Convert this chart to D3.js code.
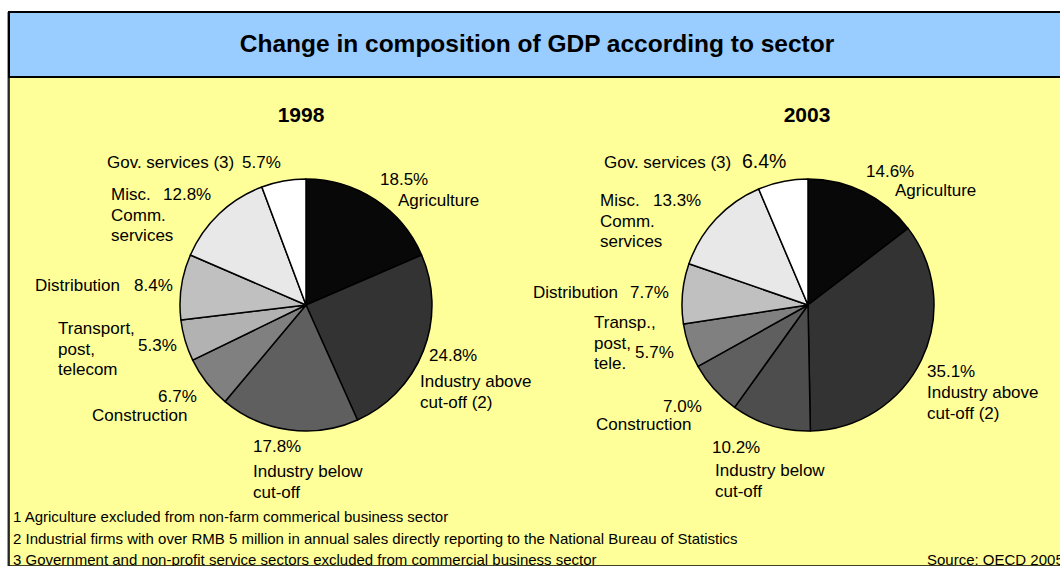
<!DOCTYPE html>
<html>
<head>
<meta charset="utf-8">
<script src="https://cdn.jsdelivr.net/npm/d3@7"></script>
<style>
  html, body { margin: 0; padding: 0; background: #ffffff; }
  svg { display: block; font-family: Arial, "Liberation Sans", sans-serif; }
</style>
</head>
<body>
<svg id="chart" width="1060" height="566"></svg>
<script>
// Sector shares of GDP (%), slices drawn clockwise from 12 o'clock
const sectors = [
  "Agriculture", "Industry above cut-off", "Industry below cut-off", "Construction",
  "Transport, post, telecom", "Distribution", "Misc. Comm. services", "Gov. services"
];
const years = ["1998", "2003"];
const values1998 = [18.5, 24.8, 17.8, 6.7, 5.3, 8.4, 12.8, 5.7];
const values2003 = [14.6, 35.1, 10.2, 7.0, 5.7, 7.7, 13.3, 6.4];

// Label wording per chart (one entry per line)
const names1998 = [["Agriculture"], ["Industry above", "cut-off (2)"], ["Industry below", "cut-off"],
  ["Construction"], ["Transport,", "post,", "telecom"], ["Distribution"], ["Misc.", "Comm.", "services"], ["Gov. services (3)"]];
const names2003 = [["Agriculture"], ["Industry above", "cut-off (2)"], ["Industry below", "cut-off"],
  ["Construction"], ["Transp.,", "post,", "tele."], ["Distribution"], ["Misc.", "Comm.", "services"], ["Gov. services (3)"]];

const footnotes = [
  "1 Agriculture excluded from non-farm commerical business sector",
  "2 Industrial firms with over RMB 5 million in annual sales directly reporting to the National Bureau of Statistics",
  "3 Government and non-profit service sectors excluded from commercial business sector"
];
const title = "Change in composition of GDP according to sector";
const source = "Source: OECD 2005";

// ---- styling / layout ----
const fills1998 = ["#080808", "#333333", "#5f5f5f", "#808080", "#b2b2b2", "#c0c0c0", "#e8e8e8", "#ffffff"];
const fills2003 = ["#080808", "#333333", "#4d4d4d", "#5f5f5f", "#808080", "#c0c0c0", "#e8e8e8", "#ffffff"];

// label anchors: value position [x, y] and first name line [x, y]
const labelPos1998 = [
  { v: [380, 185], n: [398, 206] },
  { v: [429, 361], n: [420, 387] },
  { v: [253, 452], n: [253, 477] },
  { v: [158, 402], n: [92, 421] },
  { v: [138, 351], n: [58, 334] },
  { v: [134, 291], n: [35, 291] },
  { v: [163, 200], n: [111, 200] },
  { v: [242, 168], n: [107, 168] }
];
const labelPos2003 = [
  { v: [866, 177], n: [895, 196] },
  { v: [927, 377], n: [927, 398] },
  { v: [712, 453], n: [715, 476] },
  { v: [663, 412], n: [596, 430] },
  { v: [635, 358], n: [594, 328] },
  { v: [630, 298], n: [533, 298] },
  { v: [653, 206], n: [600, 206] },
  { v: [742, 168], n: [604, 168], big: true }
];

const charts = [
  { year: years[0], values: values1998, names: names1998, fills: fills1998, pos: labelPos1998, cx: 306, cy: 305, tx: 301 },
  { year: years[1], values: values2003, names: names2003, fills: fills2003, pos: labelPos2003, cx: 808, cy: 305, tx: 807 }
];

const svg = d3.select("#chart");
const W = 1060, H = 566;
const radius = 126;
const lineH = 20.5;
const fmt = v => d3.format(".1f")(v) + "%";

// Panel background and header
svg.append("rect").attr("x", 7).attr("y", 12).attr("width", 2).attr("height", H - 12).attr("fill", "#9a9a9a");
svg.append("rect").attr("x", 9).attr("y", 77).attr("width", W).attr("height", H - 77)
  .attr("fill", "#ffff99").attr("stroke", "#000").attr("stroke-width", 1.5);
svg.append("rect").attr("x", 9).attr("y", 12).attr("width", W).attr("height", 65)
  .attr("fill", "#99ccff").attr("stroke", "#000").attr("stroke-width", 2);

svg.append("text").attr("x", 537).attr("y", 52).attr("text-anchor", "middle")
  .attr("font-size", 24.5).attr("font-weight", "bold").attr("fill", "#000").text(title);

const pie = d3.pie().sort(null).value(d => d).startAngle(0).endAngle(2 * Math.PI);
const arc = d3.arc().innerRadius(0).outerRadius(radius);

charts.forEach(c => {
  svg.append("text").attr("x", c.tx).attr("y", 122).attr("text-anchor", "middle")
    .attr("font-size", 21).attr("font-weight", "bold").text(c.year);

  const g = svg.append("g").attr("transform", `translate(${c.cx},${c.cy})`);
  g.selectAll("path").data(pie(c.values)).join("path")
    .attr("d", arc)
    .attr("fill", (d, i) => c.fills[i])
    .attr("stroke", "#000").attr("stroke-width", 1.5).attr("stroke-linejoin", "round");

  const lab = svg.append("g").attr("font-size", 17).attr("fill", "#000");
  c.values.forEach((v, i) => {
    const p = c.pos[i];
    lab.append("text").attr("x", p.v[0]).attr("y", p.v[1])
      .attr("font-size", p.big ? 19.5 : 17).text(fmt(v));
    c.names[i].forEach((line, k) => {
      lab.append("text").attr("x", p.n[0]).attr("y", p.n[1] + k * lineH).text(line);
    });
  });
});

// Footnotes and source
const foot = svg.append("g").attr("font-size", 15).attr("fill", "#000");
footnotes.forEach((f, i) => {
  foot.append("text").attr("x", 13).attr("y", 522 + i * 21.5).text(f);
});
foot.append("text").attr("x", 927).attr("y", 564.5).text(source);
</script>
</body>
</html>
